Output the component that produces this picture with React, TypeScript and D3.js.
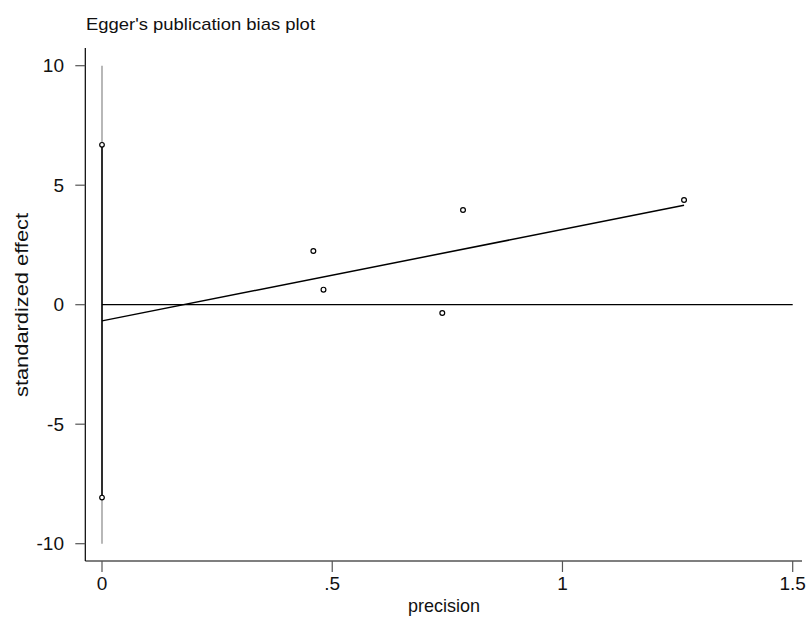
import React from "react";
import * as d3 from "d3";

const precision = [0.459, 0.481, 0.739, 0.784, 1.264];
const stdEffect = [2.25, 0.63, -0.35, 3.96, 4.38];
const ciBounds = [6.69, -8.07];
const xTicks = [0, 0.5, 1, 1.5];
const xTickLabels = ["0", ".5", "1", "1.5"];
const yTicks = [10, 5, 0, -5, -10];
const yTickLabels = ["10", "5", "0", "-5", "-10"];
const title = "Egger's publication bias plot";
const xTitle = "precision";
const yTitle = "standardized effect";

const W = 811;
const H = 619;

export default function App() {
  const x = d3.scaleLinear().domain([0, 1.5]).range([102, 792.7]);
  const y = d3.scaleLinear().domain([-10, 10]).range([543.7, 65.7]);

  // OLS regression of standardized effect on precision (Egger)
  const mx = d3.mean(precision)!;
  const my = d3.mean(stdEffect)!;
  let sxy = 0, sxx = 0;
  precision.forEach((p, i) => {
    sxy += (p - mx) * (stdEffect[i] - my);
    sxx += (p - mx) * (p - mx);
  });
  const slope = sxy / sxx;
  const intercept = my - slope * mx;
  const xMax = d3.max(precision)!;
  const line = d3.line<[number, number]>().x((d) => x(d[0])).y((d) => y(d[1]));
  const regPts: [number, number][] = [
    [0, intercept],
    [xMax, intercept + slope * xMax],
  ];

  const font = "'Liberation Sans', Arial, sans-serif";
  const axisLeft = 85.3;
  const axisBottom = 561;

  return (
    <svg
      width={W}
      height={H}
      style={{ position: "absolute", left: 0, top: 0, background: "#fff" }}
      fontFamily={font}
    >
      <rect x={0} y={0} width={W} height={H} fill="#fff" />
      <text x={86} y={30} fontSize={17} textLength={229} lengthAdjust="spacingAndGlyphs" fill="#111">
        {title}
      </text>

      {/* axes */}
      <line x1={axisLeft} x2={axisLeft} y1={48} y2={axisBottom} stroke="#000" strokeWidth={1.2} />
      <line x1={axisLeft} x2={802} y1={axisBottom} y2={axisBottom} stroke="#000" strokeWidth={1.2} />

      {yTicks.map((t, i) => (
        <g key={"yt" + i}>
          <line x1={axisLeft - 10} x2={axisLeft} y1={y(t)} y2={y(t)} stroke="#555" strokeWidth={1.2} />
          <text x={64} y={y(t) + 6.5} fontSize={19} textAnchor="end" fill="#111">
            {yTickLabels[i]}
          </text>
        </g>
      ))}
      {xTicks.map((t, i) => (
        <g key={"xt" + i}>
          <line x1={x(t)} x2={x(t)} y1={axisBottom} y2={axisBottom + 11} stroke="#555" strokeWidth={1.2} />
          <text x={x(t)} y={590} fontSize={19} textAnchor="middle" fill="#111">
            {xTickLabels[i]}
          </text>
        </g>
      ))}

      <text x={444} y={611.5} fontSize={19} textAnchor="middle" textLength={72} lengthAdjust="spacingAndGlyphs" fill="#111">
        {xTitle}
      </text>
      <text
        transform={`translate(28,305) rotate(-90)`}
        fontSize={19}
        textAnchor="middle"
        textLength={184}
        lengthAdjust="spacingAndGlyphs"
        fill="#111"
      >
        {yTitle}
      </text>

      {/* vertical reference line at precision 0 */}
      <line x1={x(0)} x2={x(0)} y1={y(10)} y2={y(-10)} stroke="#888" strokeWidth={1.2} />
      <line x1={x(0)} x2={x(0)} y1={y(ciBounds[0])} y2={y(ciBounds[1])} stroke="#000" strokeWidth={1.5} />
      {ciBounds.map((c, i) => (
        <circle key={"ci" + i} cx={x(0)} cy={y(c)} r={2.3} fill="#fff" stroke="#000" strokeWidth={1.2} />
      ))}

      {/* zero line */}
      <line x1={x(0)} x2={x(1.5)} y1={y(0)} y2={y(0)} stroke="#000" strokeWidth={1.2} />

      {/* regression line */}
      <path d={line(regPts)!} fill="none" stroke="#000" strokeWidth={1.5} />

      {/* points */}
      {precision.map((p, i) => (
        <circle key={"p" + i} cx={x(p)} cy={y(stdEffect[i])} r={2.4} fill="#fff" stroke="#000" strokeWidth={1.2} />
      ))}
    </svg>
  );
}
